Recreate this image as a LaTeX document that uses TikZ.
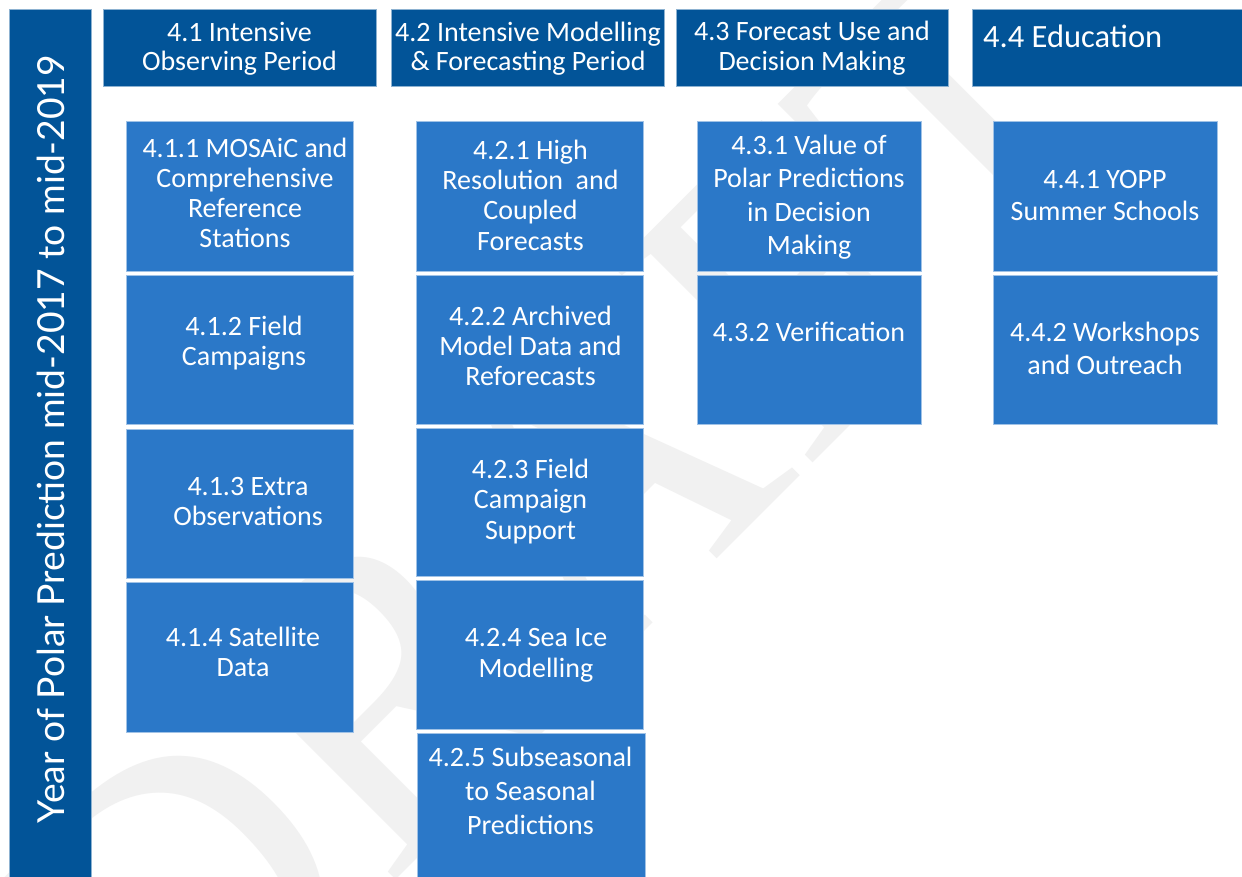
\documentclass[tikz,border=0pt]{standalone}
\usepackage{fontspec}
\setmainfont{Carlito}
\newfontfamily\vfont{Lato}
\newfontfamily\wmfont{Liberation Serif}
\definecolor{hdrc}{RGB}{2,84,152}
\definecolor{boxc}{RGB}{43,120,200}
\definecolor{wmc}{RGB}{241,241,241}
\tikzset{
  headbox/.style={fill=hdrc, draw=hdrc!45!white, line width=0.8pt, inner sep=0pt, outer sep=0pt},
  subbox/.style={fill=boxc, draw=boxc!45!white, line width=0.8pt, inner sep=0pt, outer sep=0pt},
  lbl/.style={text=white, align=center, inner sep=0pt},
  fA/.style={font=\fontsize{28}{30}\selectfont},
  sz/.style 2 args={minimum width=#1pt, minimum height=#2pt},
}
\begin{document}
\begin{tikzpicture}[x=1pt,y=-1pt]
\useasboundingbox (0,0) rectangle (1242,876);
\fill[white] (0,0) rectangle (1242,876);
% watermark
\node[text=wmc, rotate=45, inner sep=0pt, font=\wmfont\fontsize{425}{425}\selectfont] (wm) at (562,516) {DRAFT};
% left bar
\node[headbox, sz={82}{872}, anchor=north west] (bar) at (9,9) {};
\node[lbl, rotate=90] (bart) at (51,439) {\resizebox{768pt}{!}{\vfont\fontsize{36}{40}\selectfont Year of Polar Prediction mid-2017 to mid-2019}};
% headers
\node[headbox, sz={273}{77}] (h1) at (239.5,47.5) {};
\node[headbox, sz={273}{77}] (h2) at (527.5,47.5) {};
\node[headbox, sz={272}{77}] (h3) at (812,47.5) {};
\node[headbox, sz={275}{77}, anchor=north west] (h4) at (972,9) {};
\node[lbl, font=\fontsize{28}{29}\selectfont] (h1t) at (239.5,50) {\strut 4.1 Intensive\\\strut Observing Period};
\node[lbl, font=\fontsize{28}{29}\selectfont] (h2t) at (528,50) {\strut 4.2 Intensive Modelling\\\strut \& Forecasting Period};
\node[lbl, font=\fontsize{28}{29.5}\selectfont] (h3t) at (812,49.5) {\strut 4.3 Forecast Use and\\\strut Decision Making};
\node[lbl, anchor=west, font=\fontsize{32.5}{39}\selectfont] (h4t) at (983,39.3) {\strut 4.4 Education};
% column 1
\node[subbox, sz={227}{150}] (b411) at (239.5,196) {};
\node[subbox, sz={227}{149}] (b412) at (239.5,349.5) {};
\node[subbox, sz={227}{149}] (b413) at (239.5,503.5) {};
\node[subbox, sz={227}{150}] (b414) at (239.5,657) {};
\node[lbl, fA] (t411) at (245,196) {\strut 4.1.1 MOSAiC and\\\strut Comprehensive\\\strut Reference\\\strut Stations};
\node[lbl, fA] (t412) at (244,344.5) {\strut 4.1.2 Field\\\strut Campaigns};
\node[lbl, fA] (t413) at (248,504) {\strut 4.1.3 Extra\\\strut Observations};
\node[lbl, fA] (t414) at (243,655) {\strut 4.1.4 Satellite\\\strut Data};
% column 2
\node[subbox, sz={227}{150}] (b421) at (529.5,196) {};
\node[subbox, sz={227}{149}] (b422) at (529.5,349.5) {};
\node[subbox, sz={227}{148}] (b423) at (529.5,502) {};
\node[subbox, sz={227}{149}] (b424) at (529.5,654.5) {};
\node[subbox, sz={228}{150}, anchor=north west] (b425) at (417,733) {};
\node[lbl, font=\fontsize{28}{30.2}\selectfont] (t421) at (530.5,198.8) {\strut 4.2.1 High\\\strut Resolution\ \ and\\\strut Coupled\\\strut Forecasts};
\node[lbl, fA] (t422) at (530.5,349) {\strut 4.2.2 Archived\\\strut Model Data and\\\strut Reforecasts};
\node[lbl, font=\fontsize{28}{30.7}\selectfont] (t423) at (530.5,502.7) {\strut 4.2.3 Field\\\strut Campaign\\\strut Support};
\node[lbl, font=\fontsize{28}{31}\selectfont] (t424) at (536,655.5) {\strut 4.2.4 Sea Ice\\\strut Modelling};
\node[lbl, font=\fontsize{28}{34}\selectfont] (t425) at (530.5,794) {\strut 4.2.5 Subseasonal\\\strut to Seasonal\\\strut Predictions};
% column 3
\node[subbox, sz={224}{150}] (b431) at (809,196) {};
\node[subbox, sz={224}{149}] (b432) at (809,349.5) {};
\node[lbl, font=\fontsize{28}{33.5}\selectfont] (t431) at (809,198) {\strut 4.3.1 Value of\\\strut Polar Predictions\\\strut in Decision\\\strut Making};
\node[lbl, fA] (t432) at (809,335.5) {\strut 4.3.2 Verification};
% column 4
\node[subbox, sz={224}{150}] (b441) at (1105,196) {};
\node[subbox, sz={224}{149}] (b442) at (1105,349.5) {};
\node[lbl, font=\fontsize{28}{32.5}\selectfont] (t441) at (1105,198) {\strut 4.4.1 YOPP\\\strut Summer Schools};
\node[lbl, font=\fontsize{28}{33.5}\selectfont] (t442) at (1105,351.5) {\strut 4.4.2 Workshops\\\strut and Outreach};
\end{tikzpicture}
\end{document}
